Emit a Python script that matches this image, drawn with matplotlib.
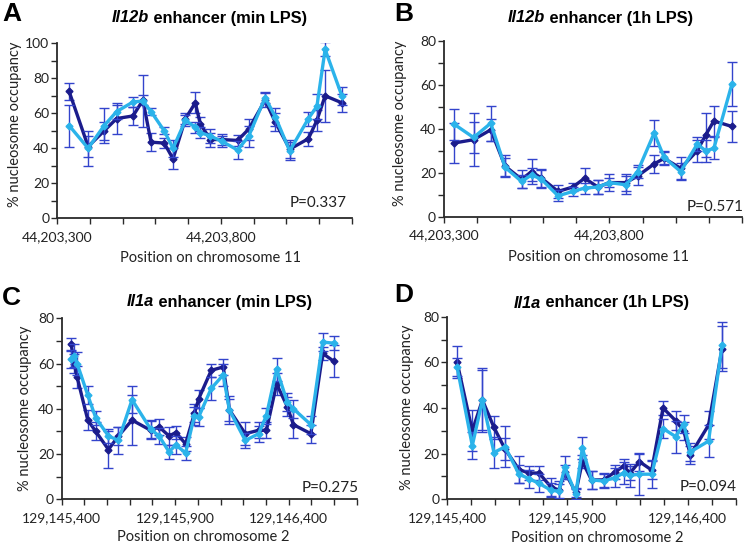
import numpy as np
import matplotlib.pyplot as plt

# ---- data (positions in bp, occupancy in %) ----
a_pos = [44203337, 44203395, 44203444, 44203482, 44203532, 44203562, 44203587, 44203627,
         44203654, 44203692, 44203722, 44203737, 44203768, 44203803, 44203851, 44203885,
         44203935, 44203966, 44204010, 44204067, 44204093, 44204118, 44204169]
a_min = [72.5, 41, 50, 57, 58.5, 67.5, 43.5, 43, 34, 57, 66, 54, 45, 45, 44.5, 51,
         67.5, 55, 39.5, 45.5, 56, 70, 66]
a_min_err = [5, 6, 5, 9, 5, 3, 5, 3, 6, 3, 6, 4, 4, 3, 3, 6, 4, 5, 5, 4, 6, 15, 5]
a_1h = [53, 40, 53, 61, 66.5, 67, 61, 50, 40, 56, 52, 49, 47, 44, 39, 47,
        69, 58, 38.5, 57, 64, 96.5, 70]
a_1h_err = [12, 10, 10, 4, 3, 15, 2, 2, 5, 3, 3, 3, 4, 3, 5, 6, 3, 5, 5, 4, 7, 4, 5]

b_pos = [44203332, 44203390, 44203442, 44203485, 44203535, 44203565, 44203595, 44203645,
         44203690, 44203725, 44203765, 44203800, 44203850, 44203885, 44203935, 44203965,
         44204015, 44204065, 44204090, 44204115, 44204170]
b_min = [33.5, 35, 39.5, 23, 17, 20.5, 17.5, 11.5, 13.5, 17.5, 13.5, 15.5, 15.5, 18.5,
         24, 26.5, 22, 30, 37, 43.5, 41]
b_min_err = [9, 12, 5, 5, 4, 5.5, 4, 3, 2, 4.5, 3, 4, 4, 4, 4, 3, 5, 5, 10, 7, 7]
b_1h = [42, 36, 42.5, 22.5, 16, 19, 17, 9.5, 11.5, 13, 13.5, 15.5, 14.5, 20.5,
        38, 27, 20.5, 33, 30, 31, 60.5]
b_1h_err = [7, 7, 8, 4, 3, 3, 4, 2.5, 2, 2.5, 3, 2, 4, 3, 6, 3, 4, 3, 5, 5, 10]

c_pos = [129145442, 129145455, 129145468, 129145515, 129145550, 129145606, 129145650,
         129145710, 129145792, 129145829, 129145873, 129145903, 129145946, 129145985,
         129146004, 129146059, 129146112, 129146139, 129146209, 129146268, 129146302,
         129146347, 129146394, 129146421, 129146498, 129146550, 129146599]
c_min = [68.5, 60, 54, 35, 30, 22, 28, 35, 30.5, 32, 28, 29.5, 24.5, 38, 44.5, 57,
         58.5, 39.5, 29, 30.5, 30.5, 51, 41, 33, 29, 64.5, 61]
c_min_err = [3, 4, 5, 4.5, 4, 8, 4, 11, 4, 3.5, 4, 3, 3, 4, 4, 3, 3.5, 6, 5, 3.5,
             3.5, 5, 4, 6, 4, 3, 7]
c_1h = [62, 63.5, 60, 46, 36, 28, 26, 44, 31, 28, 21, 24, 20.5, 37, 36.5, 49,
        55, 39.5, 26, 29, 37, 57.5, 43, 40, 33, 69.5, 69]
c_1h_err = [4, 5, 5, 4, 3, 3, 6, 6, 4, 3.5, 3, 4, 3, 4, 4, 5, 5, 5, 3.5, 3.5,
            3.5, 5, 4, 4, 4, 4, 3]

d_pos = [129145442, 129145505, 129145547, 129145595, 129145641, 129145699, 129145741,
         129145782, 129145831, 129145865, 129145889, 129145935, 129145962, 129146000,
         129146050, 129146098, 129146133, 129146160, 129146199, 129146250, 129146297,
         129146349, 129146383, 129146411, 129146486, 129146542]
d_min = [60, 30, 43.5, 31.5, 22, 13, 11.5, 11.5, 5.5, 4, 12, 3, 16.5, 8.5, 8.5, 12,
         14.5, 11.5, 16.5, 12.8, 40, 34.5, 30, 19.5, 32.5, 66]
d_min_err = [7, 9, 13, 5, 5, 6, 3, 3, 4, 4, 3, 2, 3, 4, 3, 3, 3, 3, 4, 4, 3, 4, 4,
             4, 6, 10]
d_1h = [58, 23.5, 43.5, 20.5, 23, 11, 9, 7, 4, 3.5, 14, 2.3, 22.5, 8.5, 8, 9.5,
        11.5, 10.5, 11, 11, 31, 27.5, 33, 20.8, 25.5, 67.5]
d_1h_err = [4, 6, 14, 7, 9, 4, 4, 4, 3, 3, 5, 2, 5, 4, 3, 4, 5, 5, 9, 6, 4, 7, 4,
            4, 7, 10]

W, H = 745, 546
dark_col = '#1b1c8c'
light_col = '#2bb3ea'
err_col = '#3344cc'
ax_col = '#2a2a2a'
lab_font = 'Lato'
title_font = 'Liberation Sans'

fig = plt.figure(figsize=(W / 100, H / 100), dpi=100)


def fx(x):
    return x / W


def fy(y):
    return 1 - y / H


def panel(box, letter, letter_xy, gene, rest, title_xy, pos, s1, e1, s2, e2,
          xlim, ymax, xmajor, xlabel, ylab_xy, xlab_xy, pval, p_xy):
    x0, y0, x1, y1 = box  # pixel box: left, top, right, bottom
    ax = fig.add_axes([fx(x0), fy(y1), (x1 - x0) / W, (y1 - y0) / H])

    ax.errorbar(pos, s1, yerr=e1, color=dark_col, lw=2.4, marker='D', ms=3.5,
                ecolor=err_col, elinewidth=1.0, capsize=3.5, capthick=1.0, zorder=2)
    ax.errorbar(pos, s2, yerr=e2, color=light_col, lw=2.4, marker='D', ms=3.5,
                ecolor=err_col, elinewidth=1.0, capsize=3.5, capthick=1.0, zorder=3)

    ax.set_xlim(*xlim)
    ax.set_ylim(0, ymax)
    ax.set_yticks(np.arange(0, ymax + 1, 20))
    ax.set_yticks(np.arange(0, ymax + 1, 10), minor=True)
    ax.set_xticks(xmajor)
    ax.set_xticklabels([f'{v:,}' for v in xmajor])
    ax.set_xticks(np.arange(xlim[0], xlim[1] + 1, 100), minor=True)

    for side in ['top', 'right']:
        ax.spines[side].set_visible(False)
    for side in ['left', 'bottom']:
        ax.spines[side].set_color(ax_col)
        ax.spines[side].set_linewidth(1.3)
    ax.tick_params(which='both', direction='out', length=4, width=1.0, color=ax_col)
    ax.tick_params(axis='y', pad=1.5, labelsize=10, labelcolor='#222222')
    ax.tick_params(axis='x', pad=5, labelsize=10, labelcolor='#222222')
    for lab in ax.get_xticklabels() + ax.get_yticklabels():
        lab.set_fontfamily(lab_font)

    ax.set_ylabel('% nucleosome occupancy', fontsize=10.5, fontfamily=lab_font, color='#222222')
    ax.yaxis.set_label_coords((ylab_xy[0] - x0) / (x1 - x0), (y1 - ylab_xy[1]) / (y1 - y0))
    ax.set_xlabel(xlabel, fontsize=10.5, fontfamily=lab_font, color='#222222')
    ax.xaxis.set_label_coords((xlab_xy[0] - x0) / (x1 - x0), (y1 - xlab_xy[1]) / (y1 - y0))

    fig.text(fx(p_xy[0]), fy(p_xy[1]), pval, ha='right', va='center', fontsize=11,
             fontfamily=lab_font, color='#222222')

    fig.text(fx(letter_xy[0]), fy(letter_xy[1]), letter, ha='left', va='center',
             fontsize=19, fontweight='bold', fontfamily=title_font)

    # title: italic gene name + bold remainder, centred as one line
    t1 = fig.text(0, fy(title_xy[1]), gene, ha='left', va='center', fontsize=11.8,
                  fontweight='bold', fontstyle='italic', fontfamily=title_font)
    t2 = fig.text(0, fy(title_xy[1]), rest, ha='left', va='center', fontsize=11.8,
                  fontweight='bold', fontfamily=title_font)
    r = fig.canvas.get_renderer()
    w1 = t1.get_window_extent(r).width
    w2 = t2.get_window_extent(r).width
    start = title_xy[0] - (w1 + w2) / 2
    t1.set_x(fx(start))
    t2.set_x(fx(start + w1))
    return ax


panel((57, 43.3, 352, 218.3), 'A', (2, 14), 'Il12b', ' enhancer (min LPS)', (209, 18),
      a_pos, a_min, a_min_err, a_1h, a_1h_err, (44203300, 44204200), 100,
      [44203300, 44203800], 'Position on chromosome 11', (22, 124), (210, 251),
      'P=0.337', (347, 203))

panel((443.7, 40.7, 742, 216.7), 'B', (394, 14), 'Il12b', ' enhancer (1h LPS)', (600, 18),
      b_pos, b_min, b_min_err, b_1h, b_1h_err, (44203300, 44204200), 80,
      [44203300, 44203800], 'Position on chromosome 11', (407, 123), (598, 250),
      'P=0.571', (744, 207))

panel((61.7, 318.3, 356.7, 499.3), 'C', (2, 298), 'Il1a', ' enhancer (min LPS)', (219, 302),
      c_pos, c_min, c_min_err, c_1h, c_1h_err, (129145400, 129146700), 80,
      [129145400, 129145900, 129146400], 'Position on chromosome 2', (32, 408), (203, 530),
      'P=0.275', (359, 488))

panel((447, 316.7, 736, 499.3), 'D', (394, 295), 'Il1a', ' enhancer (1h LPS)', (601, 303),
      d_pos, d_min, d_min_err, d_1h, d_1h_err, (129145400, 129146600), 80,
      [129145400, 129145900, 129146400], 'Position on chromosome 2', (414, 407), (597, 531),
      'P=0.094', (737, 487))

fig.savefig('out.png', dpi=100)
